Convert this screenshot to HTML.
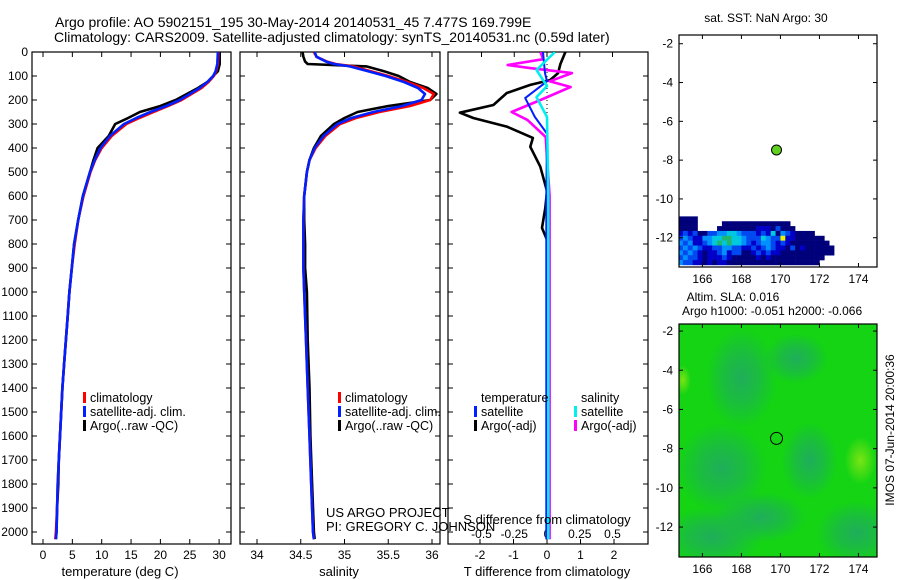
<!DOCTYPE html>
<html><head><meta charset="utf-8">
<style>
html,body{margin:0;padding:0;background:#fff;}
svg{display:block;font-family:"Liberation Sans",sans-serif;}
text{fill:#000;}
</style></head>
<body>
<svg id="fig" width="900" height="580" viewBox="0 0 900 580" xmlns="http://www.w3.org/2000/svg">
<defs>
<clipPath id="c1"><rect x="32" y="52" width="199" height="492"/></clipPath>
<clipPath id="c2"><rect x="240" y="52" width="200" height="492"/></clipPath>
<clipPath id="c3"><rect x="448" y="52" width="200" height="492"/></clipPath>
<clipPath id="cm2"><rect x="679" y="324" width="198" height="233"/></clipPath>
<radialGradient id="gd"><stop offset="0" stop-color="#1fae5a"/><stop offset="0.5" stop-color="#1fae5a" stop-opacity="0.6"/><stop offset="1" stop-color="#1fae5a" stop-opacity="0"/></radialGradient>
<radialGradient id="gl"><stop offset="0" stop-color="#7ae414"/><stop offset="1" stop-color="#7ae414" stop-opacity="0"/></radialGradient>
</defs>
<text x="55" y="27" font-size="14">Argo profile: AO 5902151_195 30-May-2014 20140531_45 7.477S 169.799E</text>
<text x="54" y="42" font-size="14">Climatology: CARS2009. Satellite-adjusted climatology: synTS_20140531.nc (0.59d later)</text>
<g id="g1"></g>
<g id="g2"></g>
<g id="g3"></g>
<g id="m1"></g>
<g id="m2"></g>
<text x="120" y="576" font-size="13" text-anchor="middle">temperature (deg C)</text>
<text x="339" y="576" font-size="13" text-anchor="middle">salinity</text>
<text x="547" y="576" font-size="13" text-anchor="middle">T difference from climatology</text>
<text x="547" y="524" font-size="13" text-anchor="middle">S difference from climatology</text>
<text x="326" y="517" font-size="13">US ARGO PROJECT</text>
<text x="326" y="531" font-size="13">PI: GREGORY C. JOHNSON</text>
<text x="766" y="22" font-size="12" text-anchor="middle">sat. SST: NaN Argo: 30</text>
<text x="733" y="301" font-size="12" text-anchor="middle">Altim. SLA: 0.016</text>
<text x="682" y="315" font-size="12">Argo h1000: -0.051 h2000: -0.066</text>
<text transform="translate(894,430) rotate(-90)" font-size="12" text-anchor="middle">IMOS 07-Jun-2014 20:00:36</text>
</svg>
<script>
// ---------- data ----------
const tDepth=[0,50,80,100,125,150,175,200,225,250,275,300,350,400,450,500,600,700,800,900,1000,1100,1200,1300,1400,1500,1600,1700,1800,1900,2000,2030];
const tClim=[29.9,29.8,29.5,29.1,28.2,27.0,25.3,23.6,21.3,18.8,16.4,14.2,11.7,10.0,8.9,8.1,6.9,6.0,5.4,4.9,4.5,4.2,3.9,3.6,3.3,3.1,2.9,2.7,2.5,2.4,2.2,2.1];
const tSat=[29.8,29.7,29.4,29.0,28.0,26.7,25.0,23.3,21.0,18.3,15.9,13.8,11.4,9.8,8.8,8.0,6.8,6.0,5.3,4.9,4.5,4.2,3.9,3.6,3.3,3.1,2.9,2.7,2.5,2.4,2.3,2.2];
const tArgo=[30.1,30.1,29.8,29.0,28.0,26.4,24.5,22.6,20.0,16.5,14.5,12.3,11.2,9.3,8.6,8.0,6.8,6.0,5.3,4.9,4.5,4.2,3.9,3.6,3.3,3.1,2.9,2.7,2.6,2.4,2.3,2.2];
const sDepth=[0,20,40,50,60,80,100,125,150,175,200,225,250,275,300,350,400,450,500,600,700,800,900,1000,1200,1400,1600,1800,2000,2030];
const sClim=[34.65,34.68,34.8,34.9,35.1,35.3,35.5,35.72,35.9,36.02,35.98,35.75,35.4,35.13,34.95,34.78,34.67,34.6,34.57,34.54,34.53,34.53,34.53,34.54,34.56,34.58,34.6,34.62,34.64,34.65];
const sSat=[34.66,34.68,34.79,34.88,35.06,35.27,35.47,35.68,35.84,35.92,35.88,35.66,35.33,35.08,34.92,34.76,34.66,34.6,34.57,34.54,34.53,34.53,34.53,34.54,34.56,34.58,34.6,34.62,34.64,34.65];
const sArgo=[34.52,34.53,34.55,34.58,35.25,35.45,35.62,35.75,35.95,36.05,35.98,35.5,35.15,35.0,34.88,34.73,34.65,34.6,34.57,34.54,34.54,34.55,34.55,34.57,34.58,34.6,34.61,34.63,34.65,34.66];
const dtDepth=[0,50,88,117,137,171,221,253,275,311,358,395,478,580,650,733,783,900,1200,1600,2000,2030];
const dtArgo=[0.55,0.4,0.33,0.09,-0.5,-1.2,-1.6,-2.6,-2.2,-1.2,-0.42,-0.5,-0.2,0,-0.05,-0.15,0,0,0,0,0,0];
const dtSatDepth=[0,88,122,192,271,340,600,1200,2030];
const dtSat=[-0.12,-0.06,0,-0.65,-0.36,0,-0.02,-0.02,-0.02];
const dsDepth=[0,30,54,67,88,122,146,200,250,283,354,600,1200,2030];
const dsArgo=[-0.05,-0.03,-0.3,-0.13,0.19,0.02,0.18,-0.05,-0.27,-0.15,-0.01,0.02,0.02,0.02];
const dsSatDepth=[0,75,142,188,271,600,2030];
const dsSat=[0.06,-0.08,0,-0.08,0,0.01,0.01];
const depthTicks=[0,100,200,300,400,500,600,700,800,900,1000,1100,1200,1300,1400,1500,1600,1700,1800,1900,2000];
const tTicks=[0,5,10,15,20,25,30];
const sTicks=[34,34.5,35,35.5,36];
const dtTicks=[-2,-1,0,1,2];
const dsTicks=[-0.5,-0.25,0,0.25,0.5];
const dsTickLabels=["-0.5","-0.25","0","0.25","0.5"];
const lonTicks=[166,168,170,172,174];
const latTicks=[-2,-4,-6,-8,-10,-12];
const argoLon=169.799, argoLat=-7.477;
const sstRows=[
"1111000000000000000000000000000000",
"111100000111111111111110000000000",
"111100001111111122213111000000000",
"232311334455433323251432111100000",
"343224455665543335433722111111000",
"434223456565543234432321111111100",
"343432233443322323432213121111110",
"434321223423311232322111111111110",
"343321222321111121211111111111000",
"433221212211111111111111111110000"];
const sstColors=["none","#00007a","#0000c8","#0048f0","#0090ff","#00c8e0","#20b870","#f0f000"];

// ---------- helpers ----------
const NS="http://www.w3.org/2000/svg";
function mk(tag,parent,attrs){const e=document.createElementNS(NS,tag);for(const k in attrs)e.setAttribute(k,attrs[k]);parent.appendChild(e);return e;}
const yD=d=>52+0.24*d;
const xT=t=>43+5.87*t;
const xS=s=>257+87.5*(s-34);
const xDT=t=>547+33.5*t;
const xDS=s=>547+131*s;

function frame(g,x0,x1,name){
  const r=mk('rect',g,{x:x0,y:52,width:x1-x0,height:492,fill:'none',stroke:'#000','stroke-width':1.2});
  
  
  depthTicks.forEach(d=>{
    const y=yD(d);
    const a=mk('line',g,{x1:x0,x2:x0+5,y1:y,y2:y,stroke:'#000'});
    
    
    const b=mk('line',g,{x1:x1-5,x2:x1,y1:y,y2:y,stroke:'#000'});
    
    
  });
}
function xticks(g,vals,fx,labels,ylab,top){
  vals.forEach((v,i)=>{
    const x=fx(v);
    const a=mk('line',g,{x1:x,x2:x,y1:539,y2:544,stroke:'#000'});
    
    
    if(top){const b=mk('line',g,{x1:x,x2:x,y1:52,y2:57,stroke:'#000'});
      
      }
    const t=mk('text',g,{x:x,y:ylab,'font-size':12,'text-anchor':'middle'});
    t.textContent=labels?labels[i]:String(v);
    
    
  });
}
function line(g,xs,ds,fx,color,name,clip,w){
  const pts=xs.map((v,i)=>fx(v).toFixed(1)+','+yD(ds[i]).toFixed(1)).join(' ');
  const p=mk('polyline',g,{points:pts,fill:'none',stroke:color,'stroke-width':w||2.6,'stroke-linejoin':'round','clip-path':'url(#'+clip+')'});
  
  
}
function legendEntry(g,x,y,color,label){
  const r=mk('rect',g,{x:x,y:y-10,width:3,height:11,fill:color});
  
  
  const t=mk('text',g,{x:x+7,y:y,'font-size':12.5});
  t.textContent=label;
  
  
}

// ---------- panel 1 ----------
const g1=document.getElementById('g1');
frame(g1,32,231,'temperature-plot-frame');
depthTicks.forEach(d=>{const t=mk('text',g1,{x:28,y:yD(d)+4,'font-size':12,'text-anchor':'end'});t.textContent=String(d);
  
  });
xticks(g1,tTicks,xT,null,559,true);
line(g1,tArgo,tDepth,xT,'#000','temperature-argo-line','c1');
line(g1,tClim,tDepth,xT,'#f00','temperature-climatology-line','c1');
line(g1,tSat,tDepth,xT,'#0020ff','temperature-satellite-line','c1');
legendEntry(g1,83,402,'#f00','climatology');
legendEntry(g1,83,416,'#0020ff','satellite-adj. clim.');
legendEntry(g1,83,430,'#000','Argo(..raw -QC)');

// ---------- panel 2 ----------
const g2=document.getElementById('g2');
frame(g2,240,440,'salinity-plot-frame');
xticks(g2,sTicks,xS,null,559,true);
line(g2,sArgo,sDepth,xS,'#000','salinity-argo-line','c2');
line(g2,sClim,sDepth,xS,'#f00','salinity-climatology-line','c2');
line(g2,sSat,sDepth,xS,'#0020ff','salinity-satellite-line','c2');
legendEntry(g2,338,402,'#f00','climatology');
legendEntry(g2,338,416,'#0020ff','satellite-adj. clim.');
legendEntry(g2,338,430,'#000','Argo(..raw -QC)');

// ---------- panel 3 ----------
const g3=document.getElementById('g3');
frame(g3,448,648,'difference-plot-frame');
xticks(g3,dtTicks,xDT,null,559,false);
dsTicks.forEach((v,i)=>{const x=xDS(v);
  const b=mk('line',g3,{x1:x,x2:x,y1:52,y2:57,stroke:'#000'});
  
  
  const t=mk('text',g3,{x:x,y:538,'font-size':12,'text-anchor':'middle'});t.textContent=dsTickLabels[i];
  
  });
const zl=mk('line',g3,{x1:547,x2:547,y1:52,y2:544,stroke:'#000','stroke-dasharray':'1,3'});


line(g3,dtArgo,dtDepth,xDT,'#000','t-diff-argo-line','c3');
line(g3,dsArgo,dsDepth,xDS,'#ff00ff','s-diff-argo-line','c3');
line(g3,dtSat,dtSatDepth,xDT,'#0020ff','t-diff-satellite-line','c3',2);
line(g3,dsSat,dsSatDepth,xDS,'#00f0f0','s-diff-satellite-line','c3');
const lt=mk('text',g3,{x:481,y:402,'font-size':12.5});lt.textContent='temperature';


const ls=mk('text',g3,{x:581,y:402,'font-size':12.5});ls.textContent='salinity';


legendEntry(g3,474,416,'#0020ff','satellite');
legendEntry(g3,474,430,'#000','Argo(-adj)');
legendEntry(g3,574,416,'#00f0f0','satellite');
legendEntry(g3,574,430,'#ff00ff','Argo(-adj)');

// ---------- maps ----------
function mapAxes(g,x0,x1,y0,y1,lat0,latScale,name){
  const xL=l=>x0+(l-164.8)*(x1-x0)/(174.95-164.8);
  const yL=la=>y0+(lat0-la)*latScale;
  const r=mk('rect',g,{x:x0,y:y0,width:x1-x0,height:y1-y0,fill:'none',stroke:'#000','stroke-width':1.2});
  
  
  lonTicks.forEach(l=>{const x=xL(l);
    const a=mk('line',g,{x1:x,x2:x,y1:y1-4,y2:y1,stroke:'#000'});
    
    
    const b=mk('line',g,{x1:x,x2:x,y1:y0,y2:y0+4,stroke:'#000'});
    
    
    const t=mk('text',g,{x:x,y:y1+16,'font-size':12,'text-anchor':'middle'});t.textContent=String(l);
    
    });
  latTicks.forEach(la=>{const y=yL(la);
    const a=mk('line',g,{x1:x0,x2:x0+4,y1:y,y2:y,stroke:'#000'});
    
    
    const b=mk('line',g,{x1:x1-4,x2:x1,y1:y,y2:y,stroke:'#000'});
    
    
    const t=mk('text',g,{x:x0-6,y:y+4,'font-size':12,'text-anchor':'end'});t.textContent=String(la);
    
    });
  return {xL,yL};
}
const m1=document.getElementById('m1');
(function(){
  const x0=679,x1=877,y0=35,y1=267,lat0=-1.55,ls=19.4;
  const xL=l=>x0+(l-164.8)*(x1-x0)/(174.95-164.8);
  const yL=la=>y0+(lat0-la)*ls;
  sstRows.forEach((row,r)=>{
    for(let c=0;c<row.length;c++){
      const v=+row[c]; if(!v) continue;
      const lon=164.75+0.25*c, lat=-10.9-0.25*r;
      const xa=Math.max(xL(lon),x0), xb=xL(lon+0.25), ya=yL(lat), yb=Math.min(yL(lat-0.25),y1);
      if(xb<=xa||yb<=ya) continue;
      const cell=mk('rect',m1,{x:xa,y:ya,width:xb-xa+0.3,height:yb-ya+0.3,fill:sstColors[v]});
      
      
    }
  });
  const c=mk('circle',m1,{cx:xL(argoLon),cy:yL(argoLat),r:5,fill:'#60d020',stroke:'#000','stroke-width':1});
  
  
  mapAxes(m1,x0,x1,y0,y1,lat0,ls,'sst-map-frame');
})();
const m2=document.getElementById('m2');
(function(){
  const x0=679,x1=877,y0=324,y1=557,lat0=-1.64,ls=19.6;
  const xL=l=>x0+(l-164.8)*(x1-x0)/(174.95-164.8);
  const yL=la=>y0+(lat0-la)*ls;
  const bg=mk('rect',m2,{x:x0,y:y0,width:x1-x0,height:y1-y0,fill:'#14d414'});
  
  
  const blobs=[[168,-4.4,35,50,'gd'],[167,-9,45,45,'gd'],[166.5,-12.5,50,30,'gd'],[173.9,-12.3,40,32,'gd'],[171.5,-8.6,28,38,'gd'],[170.8,-3.4,32,25,'gd'],[169,-11.5,45,25,'gd'],[174.1,-8.6,16,24,'gl'],[165,-4.5,8,15,'gl']];
  blobs.forEach(b=>{const e=mk('ellipse',m2,{cx:xL(b[0]),cy:yL(b[1]),rx:b[2],ry:b[3],fill:'url(#'+b[4]+')','clip-path':'url(#cm2)'});
    
    });
  const c=mk('circle',m2,{cx:xL(argoLon),cy:yL(argoLat),r:6,fill:'none',stroke:'#000','stroke-width':1});
  
  
  mapAxes(m2,x0,x1,y0,y1,lat0,ls,'sla-map-frame');
})();
</script>
</body></html>
